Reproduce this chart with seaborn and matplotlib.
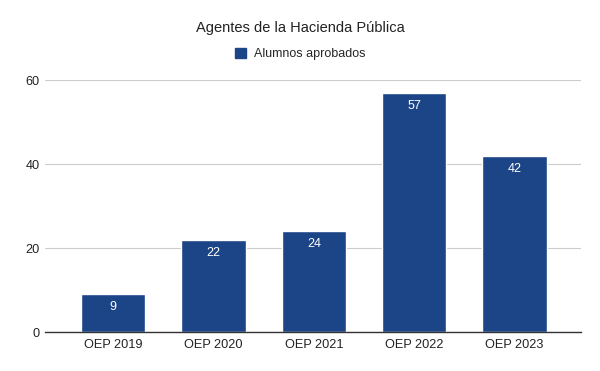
import matplotlib
matplotlib.use("Agg")
import matplotlib.pyplot as plt
import seaborn as sns
import pandas as pd
from matplotlib.patches import Patch

categories = ["OEP 2019", "OEP 2020", "OEP 2021", "OEP 2022", "OEP 2023"]
aprobados = [9, 22, 24, 57, 42]
series_name = "Alumnos aprobados"
title = "Agentes de la Hacienda Pública"

BAR_COLOR = "#1c4587"

sns.set_theme(style="white")
plt.rcParams["font.family"] = ["Liberation Sans", "DejaVu Sans"]

df = pd.DataFrame({"oep": categories, "value": aprobados})

fig = plt.figure(figsize=(6, 3.71), dpi=100)
ax = fig.add_axes([0.075, 0.105, 0.893, 0.679])

sns.barplot(data=df, x="oep", y="value", color=BAR_COLOR, width=0.64,
            saturation=1, ax=ax)

for p, v in zip(ax.patches, aprobados):
    ax.text(p.get_x() + p.get_width() / 2, v - 1.7, str(v), ha="center",
            va="top", color="white", fontsize=9)

ax.set_xlim(-0.68, 4.66)
ax.set_ylim(0, 60)
ax.set_yticks([0, 20, 40, 60])
ax.yaxis.grid(True, color="#cccccc", lw=0.8)
ax.set_axisbelow(True)
for s in ["top", "right", "left"]:
    ax.spines[s].set_visible(False)
ax.spines["bottom"].set_color("#333333")
ax.spines["bottom"].set_linewidth(1)
ax.tick_params(axis="both", length=0, labelsize=9.2, colors="#222222")
ax.tick_params(axis="x", pad=5)
ax.tick_params(axis="y", pad=4)
ax.set_xlabel("")
ax.set_ylabel("")

fig.text(0.5, 0.925, title, ha="center", va="center", fontsize=10.5, color="#222222")
fig.legend(handles=[Patch(color=BAR_COLOR, label=series_name)], loc="center",
           bbox_to_anchor=(0.5, 0.855), frameon=False, fontsize=9,
           handlelength=0.9, handleheight=0.9, handletextpad=0.6)

fig.savefig("out.png", dpi=100)
